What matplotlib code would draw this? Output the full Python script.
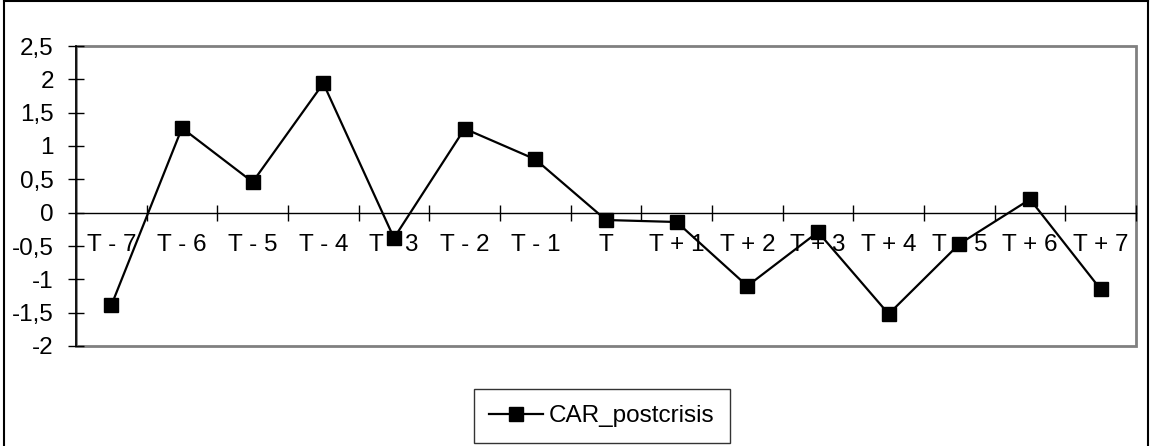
"""Event-window CAR line chart in the old spreadsheet style."""

import matplotlib

matplotlib.use("Agg")
import matplotlib.pyplot as plt
from matplotlib.lines import Line2D
from matplotlib.patches import Rectangle
from matplotlib.ticker import FixedLocator, FuncFormatter

INK = "#000000"
FRAME = "#808080"
FONT = 17.5

periods = ["T - 7", "T - 6", "T - 5", "T - 4", "T - 3", "T - 2", "T - 1", "T",
           "T + 1", "T + 2", "T + 3", "T + 4", "T + 5", "T + 6", "T + 7"]
car_postcrisis = [-1.39, 1.27, 0.46, 1.94, -0.38, 1.26, 0.80, -0.11,
                  -0.14, -1.10, -0.29, -1.52, -0.47, 0.20, -1.15]
y_ticks = [-2, -1.5, -1, -0.5, 0, 0.5, 1, 1.5, 2, 2.5]

plt.rcParams["font.family"] = ["Liberation Sans", "DejaVu Sans"]
plt.rcParams["font.size"] = FONT

fig = plt.figure(figsize=(11.5, 4.46), dpi=100, facecolor="white")
ax = fig.add_axes([76 / 1150, 1 - 346 / 446, 1060 / 1150, 300 / 446])

x = list(range(len(periods)))
ax.plot(x, car_postcrisis, color=INK, linewidth=1.6, marker="s",
        markersize=10.5, markerfacecolor=INK, markeredgecolor=INK)

ax.set_xlim(-0.5, len(periods) - 0.5)
ax.set_ylim(-2, 2.5)

# gray plot-area frame
ax.add_patch(Rectangle((0, 0), 1, 1, transform=ax.transAxes, fill=False,
                       edgecolor=FRAME, linewidth=2, zorder=0.5, clip_on=False))
for side in ("top", "right"):
    ax.spines[side].set_visible(False)
ax.spines["left"].set_color(INK)
ax.spines["left"].set_linewidth(1.2)
ax.spines["left"].set_zorder(3)
ax.spines["bottom"].set_position(("data", 0))
ax.spines["bottom"].set_color(INK)
ax.spines["bottom"].set_linewidth(1.0)

ax.yaxis.set_major_locator(FixedLocator(y_ticks))
ax.yaxis.set_major_formatter(FuncFormatter(lambda v, _: f"{v:g}".replace(".", ",")))
ax.tick_params(axis="y", direction="inout", length=12, width=1.0, pad=10, colors=INK,
               labelsize=FONT)

ax.set_xticks(x, labels=periods)
ax.set_xticks([i + 0.5 for i in x], minor=True)
ax.tick_params(axis="x", which="major", length=0, pad=15, labelsize=FONT)
ax.tick_params(axis="x", which="minor", direction="inout", length=11, width=1.0)

handle = Line2D([], [], color=INK, linewidth=1.6, marker="s", markersize=10.5)
leg = fig.legend([handle], ["CAR_postcrisis"], loc="center",
                 bbox_to_anchor=(602 / 1150, 1 - 416 / 446), frameon=True,
                 fancybox=False, edgecolor=INK, handlelength=2.2, handletextpad=0.25,
                 borderpad=0.65, borderaxespad=0, fontsize=FONT)
leg.get_frame().set_linewidth(1.0)

# outer chart border
for xs, ys in (([4 / 1150, 4 / 1150], [0, 1]), ([1148 / 1150, 1148 / 1150], [0, 1]),
               ([4 / 1150, 1148 / 1150], [1 - 1 / 446, 1 - 1 / 446])):
    fig.add_artist(Line2D(xs, ys, color=INK, linewidth=1.5, transform=fig.transFigure))

fig.savefig("out.png", dpi=100, facecolor="white")
